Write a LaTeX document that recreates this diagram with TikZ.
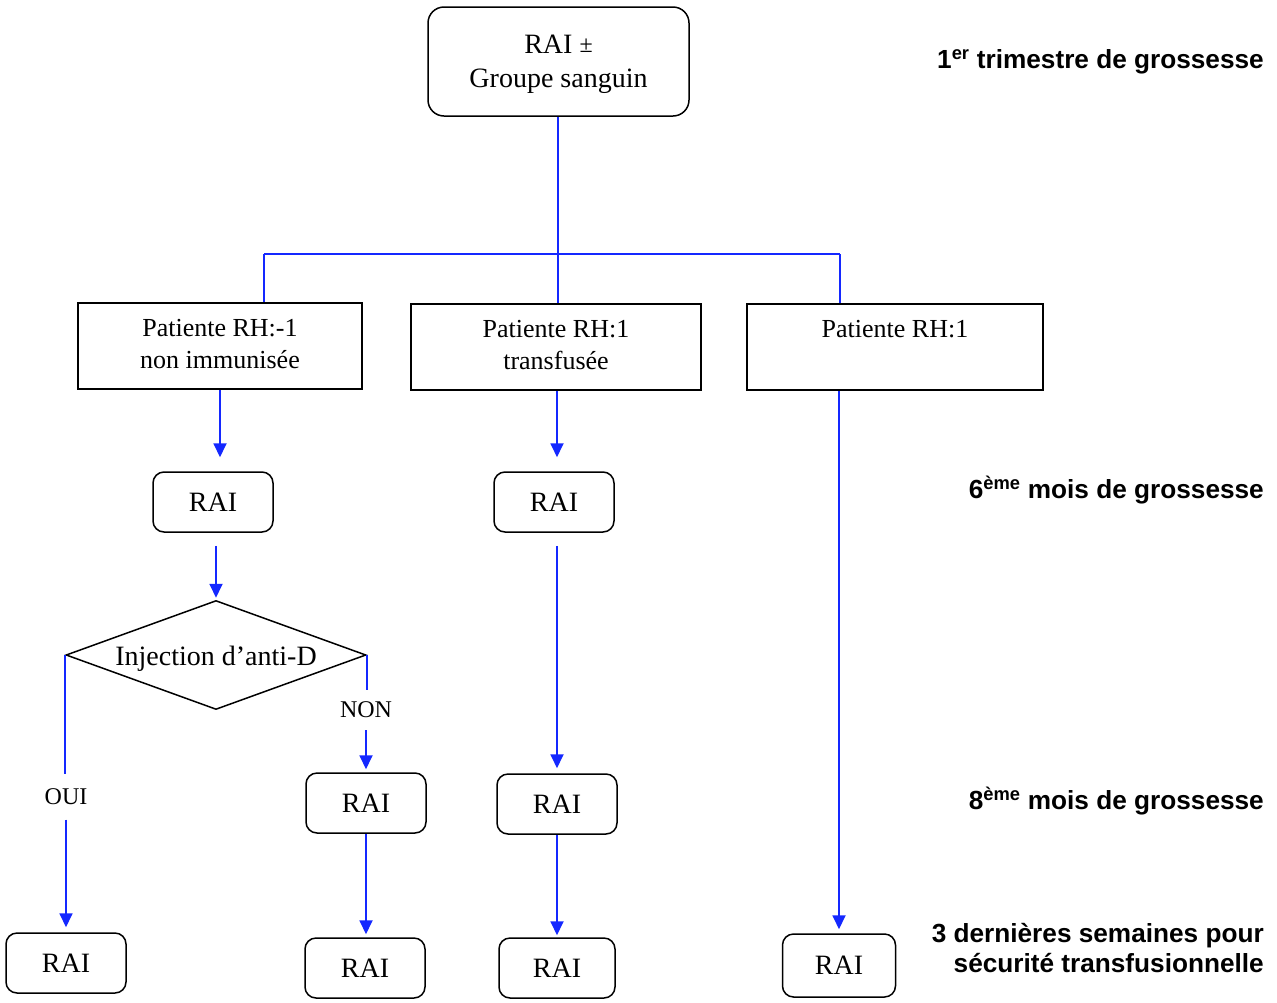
\documentclass[tikz,border=0pt]{standalone}
\usepackage{fontspec}
\setmainfont{Liberation Serif}
\newfontfamily\lsans{Liberation Sans}
\usetikzlibrary{shapes.geometric,arrows.meta}
\begin{document}
\begin{tikzpicture}[x=1pt,y=-1pt,
  rbox/.style={draw, line width=1.5pt, rounded corners=11pt, minimum width=120pt, minimum height=60pt, inner sep=0pt, font=\fontsize{28}{32}\selectfont},
  sbox/.style={draw, line width=1.5pt, inner sep=0pt, align=center, font=\fontsize{26}{32}\selectfont, minimum height=86pt},
  conn/.style={draw={rgb,255:red,20;green,40;blue,255}, line width=1.8pt},
  arr/.style={conn, -{Triangle[length=14pt,width=13pt]}},
  yn/.style={inner sep=0pt, font=\fontsize{24}{28}\selectfont},
  lbl/.style={anchor=east, align=right, inner sep=0pt, font=\lsans\bfseries\fontsize{26.2}{30}\selectfont}
]
\useasboundingbox (0,0) rectangle (1277,1002);
\fill[white] (0,0) rectangle (1277,1002);

% top node
\node[draw, line width=1.5pt, rounded corners=16pt, minimum width=261pt, minimum height=109pt, inner sep=0pt, align=center, font=\fontsize{28}{34}\selectfont] (top) at (558.5,61.5) {\rule{0pt}{25pt}RAI \raisebox{1pt}{\fontsize{24}{24}\selectfont ±}\\Groupe sanguin};

% patient boxes
\node[sbox, minimum width=284pt] (box1) at (220,346) {Patiente RH:-1\\non immunisée\rule[-4pt]{0pt}{4pt}};
\node[sbox, minimum width=290pt] (box2) at (556,347) {Patiente RH:1\\transfusée\rule[-4pt]{0pt}{4pt}};
\node[sbox, minimum width=296pt] (box3) at (895,347) {Patiente RH:1\\\rule[-4pt]{0pt}{4pt}};

% RAI boxes
\node[rbox] (rai1) at (213,502) {RAI};
\node[rbox] (rai2) at (554,502) {RAI};
\node[rbox] (rai3) at (557,804) {RAI};
\node[rbox] (rai4) at (66,963) {RAI};
\node[rbox] (rai5) at (366,803) {RAI};
\node[rbox, minimum width=116pt] (rai6) at (557,968) {RAI};
\node[rbox] (rai7) at (365,968) {RAI};
\node[rbox, minimum width=113pt, minimum height=63pt] (rai8) at (839,965.5) {RAI};

% decision
\node[draw, line width=1.5pt, diamond, shape aspect=2.75, minimum width=300pt, minimum height=109pt, inner sep=0pt, font=\fontsize{28}{32}\selectfont] (d) at (216,655) {\rule{0pt}{26pt}Injection d’anti-D};

% labels OUI / NON
\node[yn, minimum height=45pt] (oui) at (66,797) {OUI};
\node[yn, minimum height=40pt] (non) at (366,710) {NON};

% right-hand labels
\node[lbl] (t1) at (1264,62) {1\textsuperscript{er} trimestre de grossesse};
\node[lbl] (t2) at (1264,490) {6\textsuperscript{ème} mois de grossesse};
\node[lbl] (t3) at (1264,801) {8\textsuperscript{ème} mois de grossesse};
\node[lbl] (t4) at (1264,948) {3 dernières semaines pour\\sécurité transfusionnelle};

% split connectors
\coordinate (j) at (558,254);
\coordinate (j1) at (264,254);
\coordinate (j3) at (840,254);
\draw[conn] (top.south -| j) -- (j);
\draw[conn] (j1) -- (j3);
\draw[conn] (j1) -- (j1 |- box1.north);
\draw[conn] (j) -- (j |- box2.north);
\draw[conn] (j3) -- (j3 |- box3.north);

% left branch
\draw[arr, shorten >=14pt] (box1.south) -- (box1.south |- rai1.north);
\draw[arr, shorten <=13pt, shorten >=2pt] (d.north |- rai1.south) -- (d.north);
\draw[conn] (d.west) -- (d.west |- oui.north);
\draw[arr, shorten >=5pt] (oui.south) -- (rai4.north);
\draw[conn] (d.east) -- (d.east |- non.north);
\draw[arr, shorten >=3pt] (non.south) -- (rai5.north);
\draw[arr, shorten >=3pt] (rai5.south) -- (rai5.south |- rai7.north);

% middle branch
\draw[arr, shorten >=14pt] (box2.south -| rai3.north) -- (rai3.north |- rai2.north);
\draw[arr, shorten <=13pt, shorten >=5pt] (rai3.north |- rai2.south) -- (rai3.north);
\draw[arr, shorten >=2pt] (rai3.south) -- (rai3.south |- rai6.north);

% right branch
\draw[arr, shorten >=4pt] (rai8.north |- box3.south) -- (rai8.north);
\end{tikzpicture}
\end{document}
